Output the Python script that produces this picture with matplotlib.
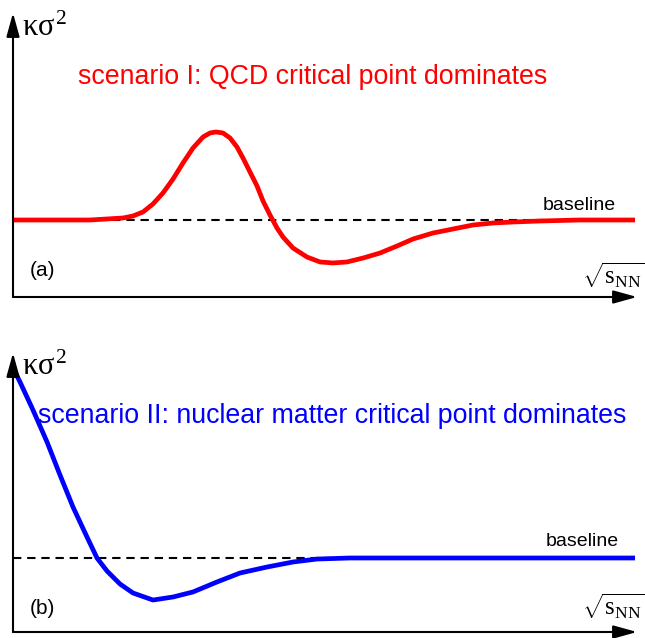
import numpy as np
import matplotlib.pyplot as plt

plt.rcParams["font.family"] = ["Liberation Sans", "DejaVu Sans"]
plt.rcParams["mathtext.fontset"] = "custom"
plt.rcParams["mathtext.rm"] = "Liberation Serif"
plt.rcParams["mathtext.it"] = "Liberation Serif"

# ----- schematic curves (arbitrary units, baseline = 1) -------------------
x_qcd = [0.0, 1.283, 1.833, 2.0, 2.167, 2.333, 2.5, 2.667, 2.833, 3.0, 3.167,
         3.283, 3.383, 3.5, 3.617, 3.733, 3.833, 3.95, 4.067, 4.167, 4.283,
         4.4, 4.5, 4.667, 4.9, 5.117, 5.333, 5.567, 5.833, 6.117, 6.4, 6.667,
         7.0, 7.333, 7.667, 8.0, 8.333, 8.783, 9.45, 10.367]
y_qcd = [1.0, 1.0, 1.026, 1.052, 1.104, 1.208, 1.351, 1.532, 1.740, 1.935,
         2.078, 2.130, 2.143, 2.130, 2.065, 1.948, 1.805, 1.623, 1.442, 1.247,
         1.065, 0.896, 0.779, 0.636, 0.519, 0.455, 0.442, 0.455, 0.506, 0.571,
         0.662, 0.753, 0.831, 0.883, 0.935, 0.961, 0.974, 0.987, 1.0, 1.0]

x_nuc = [0.0, 0.117, 0.333, 0.567, 0.783, 1.0, 1.233, 1.4, 1.567, 1.783, 2.0,
         2.333, 2.667, 3.0, 3.4, 3.783, 4.233, 4.667, 5.067, 5.617, 10.367]
y_nuc = [3.568, 3.378, 3.0, 2.568, 2.122, 1.689, 1.284, 1.0, 0.824, 0.649,
         0.527, 0.432, 0.473, 0.541, 0.676, 0.797, 0.878, 0.946, 0.986, 1.0,
         1.0]

BASELINE = 1.0
panels = [
    dict(x=x_qcd, y=y_qcd, color="red", tag="(a)",
         title="scenario I: QCD critical point dominates",
         rect=[13 / 645, 341 / 638, 624 / 645, 284 / 638], ytop=3.688,
         dash_end=9.0, title_xy=(1.08, 2.86), base_xy=(8.83, 1.19),
         tag_xy=(0.28, 0.35), kap_xy=(0.15, 3.39), sq_xy=(9.48, 0.16)),
    dict(x=x_nuc, y=y_nuc, color="blue", tag="(b)",
         title="scenario II: nuclear matter critical point dominates",
         rect=[13 / 645, 6 / 638, 624 / 645, 279 / 638], ytop=3.77,
         dash_end=6.0, title_xy=(0.42, 2.92), base_xy=(8.87, 1.22),
         tag_xy=(0.28, 0.32), kap_xy=(0.15, 3.47), sq_xy=(9.48, 0.23)),
]

fig = plt.figure(figsize=(6.45, 6.38), dpi=100)
for p in panels:
    ax = fig.add_axes(p["rect"])
    ax.set_xlim(0, 10.4)
    ax.set_ylim(0, p["ytop"])
    ax.axis("off")

    # axes with arrow heads
    arrow = dict(arrowstyle="-|>,head_length=0.72,head_width=0.2",
                 mutation_scale=20, lw=1.5, color="black",
                 shrinkA=0, shrinkB=0)
    ax.annotate("", xy=(10.4, 0), xytext=(0, 0), arrowprops=arrow,
                annotation_clip=False)
    ax.annotate("", xy=(0, p["ytop"]), xytext=(0, 0), arrowprops=arrow,
                annotation_clip=False)

    ax.plot([0, p["dash_end"]], [BASELINE, BASELINE], color="black", lw=1.5,
            dashes=(4, 2.8), clip_on=False)
    ax.plot(p["x"], p["y"], color=p["color"], lw=3.4, clip_on=False,
            solid_capstyle="butt", solid_joinstyle="round")

    ax.text(*p["title_xy"], p["title"], color=p["color"], fontsize=19.3,
            va="center", ha="left")
    ax.text(*p["base_xy"], "baseline", fontsize=14, va="center", ha="left")
    ax.text(*p["tag_xy"], p["tag"], fontsize=15, va="center", ha="left")
    ax.text(*p["kap_xy"], r"$\kappa\sigma^{2}$", fontsize=22, va="baseline",
            ha="left")
    ax.text(*p["sq_xy"], r"$\sqrt{\mathrm{s}_{\mathrm{NN}}}$", fontsize=18,
            va="baseline", ha="left")

fig.savefig("out.png", dpi=100)
